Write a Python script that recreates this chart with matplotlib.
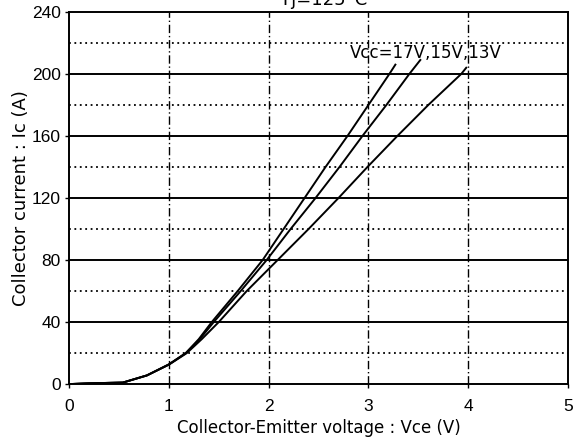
import matplotlib
matplotlib.use("Agg")
import matplotlib.pyplot as plt
from matplotlib import font_manager

plt.rcParams['font.family'] = ['DejaVu Sans']

# Data (Vce in V, Ic in A)
vce_17 = [0.0, 0.2, 0.54, 0.78, 1.0, 1.17, 1.30, 1.43, 1.69, 1.94, 2.15, 2.36, 2.57, 2.79, 3.00, 3.21, 3.27]
ic_17 = [0.0, 0.5, 1.0, 5.6, 12.7, 20, 29, 40, 60, 80, 100, 120, 140, 160, 180, 200, 206]

vce_15 = [0.0, 0.2, 0.54, 0.78, 1.0, 1.17, 1.31, 1.45, 1.72, 1.98, 2.22, 2.47, 2.71, 2.94, 3.18, 3.41, 3.52]
ic_15 = [0.0, 0.5, 1.0, 5.6, 12.7, 20, 29, 40, 60, 80, 100, 120, 140, 160, 180, 200, 209]

vce_13 = [0.0, 0.2, 0.54, 0.78, 1.0, 1.18, 1.33, 1.50, 1.78, 2.09, 2.40, 2.70, 2.99, 3.29, 3.60, 3.93, 3.98]
ic_13 = [0.0, 0.5, 1.0, 5.6, 12.5, 20, 29, 40, 60, 80, 100, 120, 140, 160, 180, 200, 204]

x_ticks = [0, 1, 2, 3, 4, 5]
y_ticks = [0, 40, 80, 120, 160, 200, 240]
y_minor = [20, 60, 100, 140, 180, 220]

# narrow font for tick numbers if available
try:
    font_manager.findfont(font_manager.FontProperties(family='Liberation Sans Narrow'),
                          fallback_to_default=False)
    tick_family, tick_size = 'Liberation Sans Narrow', 14
except Exception:
    tick_family, tick_size = 'Liberation Sans', 12.5

fig = plt.figure(figsize=(5.85, 4.41), dpi=100)
ax = fig.add_axes([0.118, 0.129, 0.853, 0.844])

ax.set_xlim(0, 5)
ax.set_ylim(0, 240)

# grid
for y in y_ticks[1:-1]:
    ax.axhline(y, color='black', lw=1.4, zorder=1)
for y in y_minor:
    ax.axhline(y, color='black', lw=1.3, ls=(0, (1, 2)), zorder=1)
for x in x_ticks[1:-1]:
    ax.axvline(x, color='black', lw=1.0, ls=(0, (6, 2, 1, 2)), zorder=1)

for xs, ys in [(vce_17, ic_17), (vce_15, ic_15), (vce_13, ic_13)]:
    ax.plot(xs, ys, color='black', lw=1.4, zorder=3)

ax.set_xticks(x_ticks)
ax.set_yticks(y_ticks)
ax.tick_params(direction='out', length=3, width=1)
ax.tick_params(axis='x', pad=8)
ax.tick_params(axis='y', pad=3)
for lab in ax.get_xticklabels() + ax.get_yticklabels():
    lab.set_family(tick_family)
    lab.set_fontsize(tick_size)
for s in ax.spines.values():
    s.set_linewidth(1.4)

ax.set_xlabel('Collector-Emitter voltage : Vce (V)', fontsize=12, labelpad=3)
ax.set_ylabel('Collector current : Ic (A)', fontsize=13, labelpad=1)

ax.text(3.57, 213.5, 'Vcc=17V,15V,13V', fontsize=12, ha='center', va='center', zorder=4)
fig.text(0.554, 0.989, 'Tj=125°C', fontsize=13, ha='center', va='baseline')

fig.savefig('out.png', dpi=100)
